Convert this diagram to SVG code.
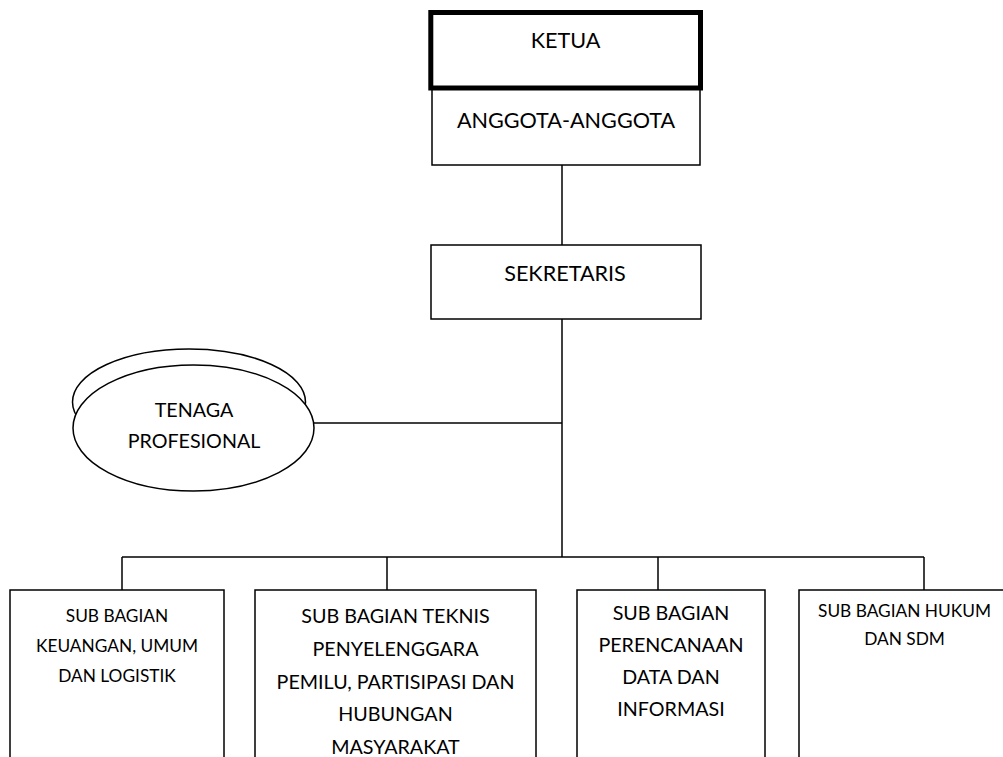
<svg xmlns="http://www.w3.org/2000/svg" width="1003" height="757" viewBox="0 0 1003 757">
<style>
  .box { fill: #fff; stroke: #000; stroke-width: 1.5; }
  .thick { fill: #fff; stroke: #000; stroke-width: 5; }
  .conn { fill: none; stroke: #000; stroke-width: 1.5; }
  text { font-family: "Lato", "Liberation Sans", sans-serif; fill: #000; text-anchor: middle; }
  .t1 { font-size: 21.6px; }
  .t2 { font-size: 19.7px; }
  .t3 { font-size: 17.3px; }
</style>
<rect width="1003" height="757" fill="#fff"/>
<g id="connectors">
  <line class="conn" x1="562" y1="165" x2="562" y2="245"/>
  <line class="conn" x1="562" y1="319" x2="562" y2="557"/>
  <line class="conn" x1="314" y1="423" x2="562" y2="423"/>
  <line class="conn" x1="122" y1="557" x2="924" y2="557"/>
  <line class="conn" x1="122" y1="557" x2="122" y2="590"/>
  <line class="conn" x1="387" y1="557" x2="387" y2="590"/>
  <line class="conn" x1="658" y1="557" x2="658" y2="590"/>
  <line class="conn" x1="924" y1="557" x2="924" y2="590"/>
</g>
<g id="anggota">
  <rect class="box" x="432" y="88" width="268" height="77"/>
  <text class="t1" x="566" y="128">ANGGOTA-ANGGOTA</text>
</g>
<g id="ketua">
  <rect class="thick" x="430.8" y="12.5" width="269.7" height="75.5"/>
  <text class="t1" x="565.5" y="48">KETUA</text>
</g>
<g id="sekretaris">
  <rect class="box" x="431" y="245" width="270" height="74"/>
  <text class="t1" x="565" y="281">SEKRETARIS</text>
</g>
<g id="tenaga-profesional">
  <ellipse class="box" cx="189" cy="402" rx="116.5" ry="53"/>
  <ellipse class="box" cx="193.5" cy="428" rx="120.5" ry="63"/>
  <text class="t2" x="194" y="417">TENAGA</text>
  <text class="t2" x="194" y="448">PROFESIONAL</text>
</g>
<g id="sub-keuangan">
  <rect class="box" x="10" y="590" width="214" height="180"/>
  <text class="t3" x="117" y="622">SUB BAGIAN</text>
  <text class="t3" x="117" y="652">KEUANGAN, UMUM</text>
  <text class="t3" x="117" y="682">DAN LOGISTIK</text>
</g>
<g id="sub-teknis">
  <rect class="box" x="255" y="590" width="281" height="180"/>
  <text class="t2" x="395.5" y="623">SUB BAGIAN TEKNIS</text>
  <text class="t2" x="395.5" y="656">PENYELENGGARA</text>
  <text class="t2" x="395.5" y="689">PEMILU, PARTISIPASI DAN</text>
  <text class="t2" x="395.5" y="721">HUBUNGAN</text>
  <text class="t2" x="395.5" y="754">MASYARAKAT</text>
</g>
<g id="sub-perencanaan">
  <rect class="box" x="577" y="590" width="188" height="180"/>
  <text class="t2" x="671" y="620">SUB BAGIAN</text>
  <text class="t2" x="671" y="652">PERENCANAAN</text>
  <text class="t2" x="671" y="684">DATA DAN</text>
  <text class="t2" x="671" y="716">INFORMASI</text>
</g>
<g id="sub-hukum">
  <rect class="box" x="799" y="590" width="211" height="180"/>
  <text class="t3" x="904.5" y="617">SUB BAGIAN HUKUM</text>
  <text class="t3" x="904.5" y="645">DAN SDM</text>
</g>
</svg>
